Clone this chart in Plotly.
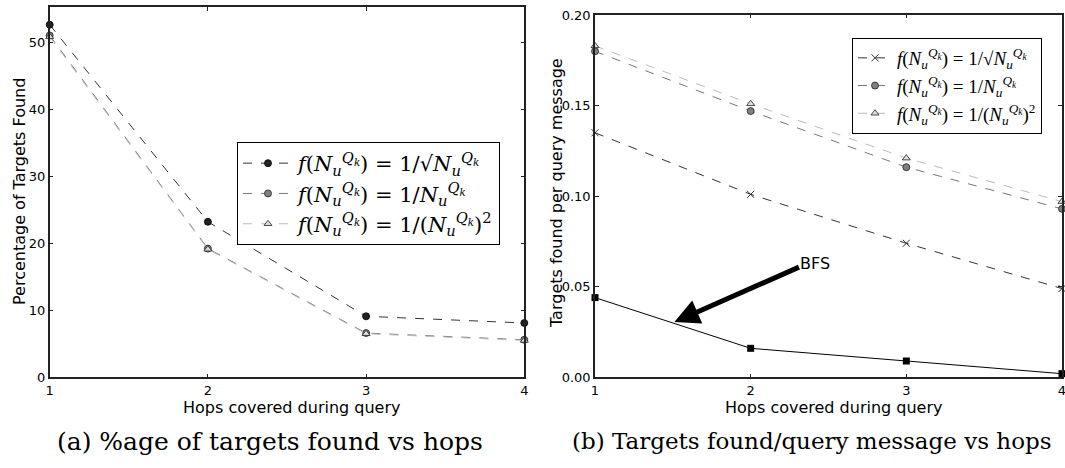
import plotly.graph_objects as go

hops = [1, 2, 3, 4]

# (a) percentage of targets found
pct_sqrt = [52.6, 23.2, 9.1, 8.1]
pct_inv = [51.0, 19.2, 6.6, 5.6]
pct_inv2 = [50.8, 19.1, 6.5, 5.5]

# (b) targets found per query message
tpm_sqrt = [0.135, 0.101, 0.074, 0.049]
tpm_inv = [0.180, 0.147, 0.116, 0.093]
tpm_inv2 = [0.183, 0.151, 0.121, 0.097]
tpm_bfs = [0.044, 0.016, 0.009, 0.002]

yticks_a = [0, 10, 20, 30, 40, 50]
yticks_b = [0.0, 0.05, 0.10, 0.15, 0.20]
yticklabels_b = ["0.00", "0.05", "0.10", "0.15", "0.20"]

NQ = "<i>N</i><sub><i>u</i></sub><sup><i>Q<sub>k</sub></i></sup>"
lab_sqrt = "<i>f</i>(" + NQ + ") = 1/√" + NQ + ""
lab_inv = "<i>f</i>(" + NQ + ") = 1/" + NQ
lab_inv2 = "<i>f</i>(" + NQ + ") = 1/(" + NQ + ")<sup>2</sup>"

DARK = "#333333"
MID = "#777777"
LIGHT = "#bbbbbb"

W, H = 1065, 468


def px(x):
    return x / W


def py(y):
    return 1 - y / H


fig = go.Figure()

# left panel
fig.add_trace(go.Scatter(x=hops, y=pct_sqrt, mode="lines+markers", name=lab_sqrt,
                         line=dict(color=DARK, width=1, dash="dash"),
                         marker=dict(symbol="circle", size=7, color="#222222", line=dict(color="#000", width=0.8)),
                         xaxis="x", yaxis="y", legend="legend", cliponaxis=False))
fig.add_trace(go.Scatter(x=hops, y=pct_inv, mode="lines+markers", name=lab_inv,
                         line=dict(color=MID, width=1, dash="dash"),
                         marker=dict(symbol="circle", size=7, color="#808080", line=dict(color="#222", width=0.8)),
                         xaxis="x", yaxis="y", legend="legend", cliponaxis=False))
fig.add_trace(go.Scatter(x=hops, y=pct_inv2, mode="lines+markers", name=lab_inv2,
                         line=dict(color=LIGHT, width=1, dash="dash"),
                         marker=dict(symbol="triangle-up", size=7, color="#dddddd", line=dict(color="#222", width=0.8)),
                         xaxis="x", yaxis="y", legend="legend", cliponaxis=False))

# right panel
fig.add_trace(go.Scatter(x=hops, y=tpm_sqrt, mode="lines+markers", name=lab_sqrt,
                         line=dict(color=DARK, width=1, dash="dash"),
                         marker=dict(symbol="x-thin", size=7, color=DARK, line=dict(color=DARK, width=1)),
                         xaxis="x2", yaxis="y2", legend="legend2", cliponaxis=False))
fig.add_trace(go.Scatter(x=hops, y=tpm_inv, mode="lines+markers", name=lab_inv,
                         line=dict(color=MID, width=1, dash="dash"),
                         marker=dict(symbol="circle", size=7, color="#808080", line=dict(color="#222", width=0.8)),
                         xaxis="x2", yaxis="y2", legend="legend2", cliponaxis=False))
fig.add_trace(go.Scatter(x=hops, y=tpm_inv2, mode="lines+markers", name=lab_inv2,
                         line=dict(color=LIGHT, width=1, dash="dash"),
                         marker=dict(symbol="triangle-up", size=7, color="#dddddd", line=dict(color="#222", width=0.8)),
                         xaxis="x2", yaxis="y2", legend="legend2", cliponaxis=False))
fig.add_trace(go.Scatter(x=hops, y=tpm_bfs, mode="lines+markers", name="BFS", showlegend=False,
                         line=dict(color="#000000", width=1),
                         marker=dict(symbol="square", size=7, color="#000000"),
                         xaxis="x2", yaxis="y2", cliponaxis=False))

axis_common = dict(showline=True, mirror="allticks", linecolor="#222222", linewidth=1.5,
                   ticks="inside", ticklen=4, tickcolor="#222222", showgrid=False, zeroline=False,
                   automargin=False, ticklabeloverflow="allow",
                   tickfont=dict(family="DejaVu Sans", size=13, color="#000"))

title_font = dict(family="DejaVu Sans", size=16, color="#000")

fig.update_layout(
    width=W, height=H,
    margin=dict(l=0, r=0, t=0, b=0, autoexpand=False),
    paper_bgcolor="white", plot_bgcolor="white",
    showlegend=True,
    xaxis=dict(domain=[px(49.7), px(524.3)], range=[1, 4], tickvals=hops,
               anchor="y", **axis_common),
    yaxis=dict(domain=[py(377.3), py(7.3)], range=[0, 55.2], tickvals=yticks_a,
               anchor="x", **axis_common),
    xaxis2=dict(domain=[px(595), px(1062)], range=[1, 4], tickvals=hops,
                anchor="y2", **axis_common),
    yaxis2=dict(domain=[py(377.3), py(14.7)], range=[0, 0.2002], tickvals=yticks_b,
                ticktext=yticklabels_b,
                anchor="x2", **axis_common),
    legend=dict(x=px(237), y=py(142), xanchor="left", yanchor="top",
                bordercolor="#000", borderwidth=1, bgcolor="white",
                font=dict(family="DejaVu Serif", size=21, color="#000"),
                tracegroupgap=2, itemwidth=50),
    legend2=dict(x=px(852), y=py(38), xanchor="left", yanchor="top",
                 bordercolor="#000", borderwidth=1, bgcolor="white",
                 font=dict(family="Liberation Serif", size=19, color="#000"),
                 tracegroupgap=0, itemwidth=34),
    annotations=[
        dict(x=1.51, y=0.0305, xref="x2", yref="y2", ax=2.32, ay=0.0612,
             axref="x2", ayref="y2", text="", showarrow=True, arrowhead=2,
             arrowwidth=5, arrowsize=1.0, arrowcolor="#000"),
        dict(x=2.32, y=0.0612, xref="x2", yref="y2", text="BFS", showarrow=False,
             xanchor="left", yanchor="bottom", xshift=-2, yshift=-9,
             font=dict(family="DejaVu Sans", size=16, color="#000")),
        # axis titles
        dict(x=px(292), y=py(407), xref="paper", yref="paper", xanchor="center", yanchor="middle",
             text="Hops covered during query", showarrow=False, font=title_font),
        dict(x=px(834), y=py(407), xref="paper", yref="paper", xanchor="center", yanchor="middle",
             text="Hops covered during query", showarrow=False, font=title_font),
        dict(x=px(19), y=py(192), xref="paper", yref="paper", xanchor="center", yanchor="middle",
             text="Percentage of Targets Found", textangle=-90, showarrow=False, font=title_font),
        dict(x=px(556), y=py(193), xref="paper", yref="paper", xanchor="center", yanchor="middle",
             text="Targets found per query message", textangle=-90, showarrow=False, font=title_font),
        # captions
        dict(x=px(270), y=py(441), xref="paper", yref="paper", xanchor="center", yanchor="middle",
             text="(a) %age of targets found vs hops", showarrow=False,
             font=dict(family="DejaVu Serif", size=25, color="#000")),
        dict(x=px(812), y=py(441), xref="paper", yref="paper", xanchor="center", yanchor="middle",
             text="(b) Targets found/query message vs hops", showarrow=False,
             font=dict(family="DejaVu Serif", size=23, color="#000")),
    ],
)

fig.write_html("out.html", config={"displayModeBar": False},
               post_script="document.body.style.margin='0px';")
